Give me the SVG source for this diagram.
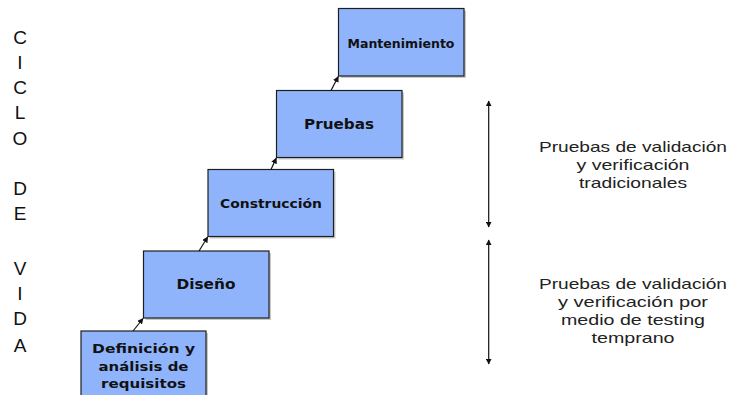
<svg xmlns="http://www.w3.org/2000/svg" width="729" height="395" viewBox="0 0 729 395">
  <style>
    .box { fill: #8fb4fc; stroke: #1e1e1e; stroke-width: 1.2; }
    .shadow { fill: #9a9a9a; opacity: 0.55; }
    .lbl { font-family: "DejaVu Sans", Verdana, sans-serif; font-weight: bold; fill: #111; text-anchor: middle; }
    .side { font-family: "Liberation Sans", Arial, sans-serif; font-size: 19px; fill: #111; text-anchor: middle; }
    .note { font-family: "Liberation Sans", Arial, sans-serif; font-size: 15px; fill: #222; text-anchor: middle; }
    .conn { stroke: #111; stroke-width: 1.2; fill: none; }
  </style>
  <defs>
    <marker id="ah" viewBox="0 0 10 10" refX="9" refY="5" markerWidth="5" markerHeight="5" orient="auto-start-reverse">
      <path d="M0,0 L10,5 L0,10 z" fill="#111"/>
    </marker>
  </defs>
  <rect width="729" height="395" fill="#fff"/>

  <!-- vertical title -->
  <g id="title">
    <text class="side" x="20" y="44">C</text>
    <text class="side" x="20" y="69">I</text>
    <text class="side" x="20" y="94">C</text>
    <text class="side" x="20" y="119">L</text>
    <text class="side" x="20" y="145">O</text>
    <text class="side" x="20" y="195">D</text>
    <text class="side" x="20" y="220">E</text>
    <text class="side" x="20" y="275">V</text>
    <text class="side" x="20" y="300">I</text>
    <text class="side" x="20" y="325">D</text>
    <text class="side" x="20" y="352">A</text>
  </g>

  <!-- lifecycle stages -->
  <g id="definicion">
    <rect class="shadow" x="83" y="333" width="125" height="70"/>
    <rect class="box" x="81" y="331" width="125" height="70"/>
    <text class="lbl" x="143.5" y="353" font-size="13" textLength="103" lengthAdjust="spacingAndGlyphs">Definición y</text>
    <text class="lbl" x="143.5" y="371" font-size="13" textLength="90" lengthAdjust="spacingAndGlyphs">análisis de</text>
    <text class="lbl" x="143.5" y="388" font-size="13" textLength="85" lengthAdjust="spacingAndGlyphs">requisitos</text>
  </g>
  <g id="diseno">
    <rect class="shadow" x="145.5" y="253" width="125.5" height="67"/>
    <rect class="box" x="143.5" y="251" width="125.5" height="67"/>
    <text class="lbl" x="206" y="289" font-size="14" textLength="59" lengthAdjust="spacingAndGlyphs">Diseño</text>
  </g>
  <g id="construccion">
    <rect class="shadow" x="210" y="171.5" width="125.5" height="67"/>
    <rect class="box" x="208" y="169.5" width="125.5" height="67"/>
    <text class="lbl" x="271" y="208" font-size="13" textLength="102" lengthAdjust="spacingAndGlyphs">Construcción</text>
  </g>
  <g id="pruebas">
    <rect class="shadow" x="278.5" y="92.5" width="125.5" height="67"/>
    <rect class="box" x="276.5" y="90.5" width="125.5" height="67"/>
    <text class="lbl" x="339" y="129" font-size="14" textLength="70" lengthAdjust="spacingAndGlyphs">Pruebas</text>
  </g>
  <g id="mantenimiento">
    <rect class="shadow" x="340.5" y="10.5" width="125.5" height="67.5"/>
    <rect class="box" x="338.5" y="8.5" width="125.5" height="67.5"/>
    <text class="lbl" x="401" y="48" font-size="11.5" textLength="107" lengthAdjust="spacingAndGlyphs">Mantenimiento</text>
  </g>

  <!-- connectors -->
  <g id="connectors">
    <line class="conn" x1="133" y1="331" x2="143" y2="318.5" marker-end="url(#ah)"/>
    <line class="conn" x1="199" y1="251" x2="207.7" y2="237" marker-end="url(#ah)"/>
    <line class="conn" x1="271" y1="169.5" x2="276.3" y2="158" marker-end="url(#ah)"/>
    <line class="conn" x1="331" y1="90.5" x2="338.3" y2="76.5" marker-end="url(#ah)"/>
    <line class="conn" x1="488.7" y1="101" x2="488.7" y2="227" marker-start="url(#ah)" marker-end="url(#ah)"/>
    <line class="conn" x1="488.7" y1="240" x2="488.7" y2="364" marker-start="url(#ah)" marker-end="url(#ah)"/>
  </g>

  <!-- annotations -->
  <g id="nota-tradicional">
    <text class="note" x="633" y="152" textLength="188" lengthAdjust="spacingAndGlyphs">Pruebas de validación</text>
    <text class="note" x="633" y="170" textLength="113" lengthAdjust="spacingAndGlyphs">y verificación</text>
    <text class="note" x="633" y="188" textLength="108" lengthAdjust="spacingAndGlyphs">tradicionales</text>
  </g>
  <g id="nota-temprano">
    <text class="note" x="633" y="289" textLength="188" lengthAdjust="spacingAndGlyphs">Pruebas de validación</text>
    <text class="note" x="633" y="307" textLength="150" lengthAdjust="spacingAndGlyphs">y verificación por</text>
    <text class="note" x="633" y="325" textLength="144" lengthAdjust="spacingAndGlyphs">medio de testing</text>
    <text class="note" x="633" y="343" textLength="83" lengthAdjust="spacingAndGlyphs">temprano</text>
  </g>
</svg>
